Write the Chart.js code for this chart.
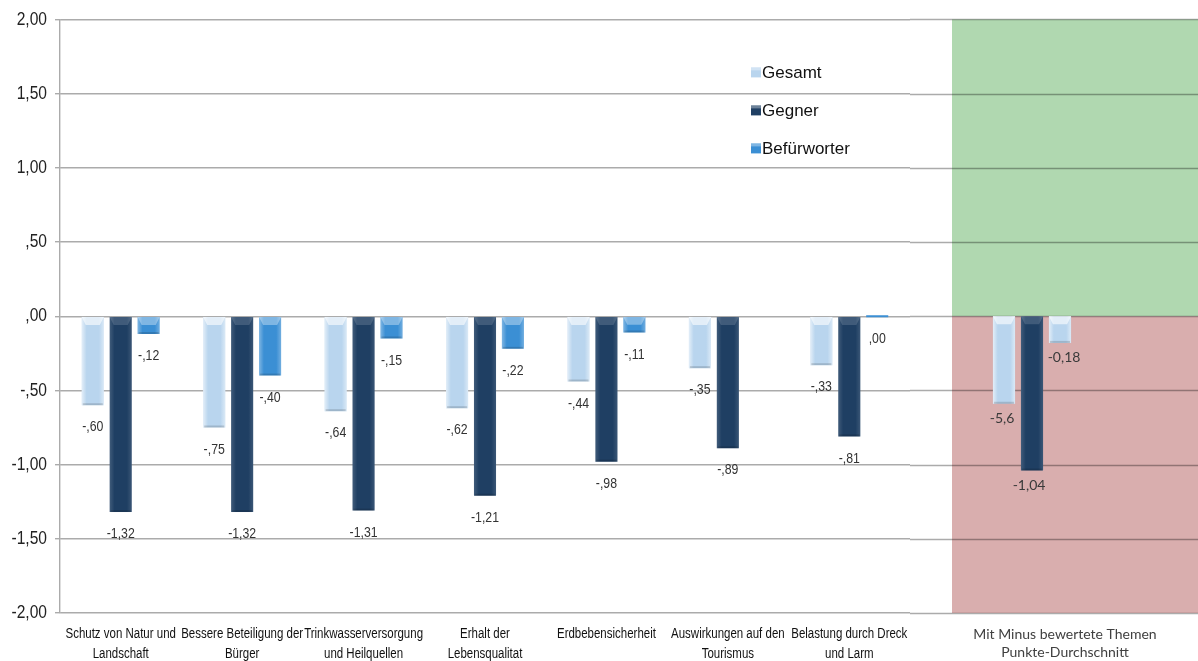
<!DOCTYPE html>
<html>
<head>
<meta charset="utf-8">
<script src="https://cdn.jsdelivr.net/npm/chart.js@4.4.1/dist/chart.umd.min.js"></script>
<style>
  body { margin: 0; background: #fff; }
  .box { position: absolute; top: 0; height: 661px; }
  #boxA { left: 0; width: 910px; }
  #boxB { left: 866px; width: 332px; }
</style>
</head>
<body>
<div class="box" id="boxA"><canvas id="bars"></canvas></div>
<div class="box" id="boxB"><canvas id="panel"></canvas></div>
<script>
// data
const topics = [
    ["Schutz von Natur und", "Landschaft"],
    ["Bessere Beteiligung der", "Bürger"],
    ["Trinkwasserversorgung", "und Heilquellen"],
    ["Erhalt der", "Lebensqualitat"],
    ["Erdbebensicherheit"],
    ["Auswirkungen auf den", "Tourismus"],
    ["Belastung durch Dreck", "und Larm"],
];
const gesamt = [-0.60, -0.75, -0.64, -0.62, -0.44, -0.35, -0.33];
const gegner = [-1.32, -1.32, -1.31, -1.21, -0.98, -0.89, -0.81];
const befuerworter = [-0.12, -0.40, -0.15, -0.22, -0.11, null, 0.00];

const panelLabel = ["Mit Minus bewertete Themen", "Punkte-Durchschnitt"];
const panelValues = [-0.59, -1.04, -0.18];
const panelText = ["-5,6", "-1,04", "-0,18"];

const yTicks = [2, 1.5, 1, 0.5, 0, -0.5, -1, -1.5, -2];

const seriesNames = ["Gesamt", "Gegner", "Befürworter"];
const seriesColors = ["#b9d5ee", "#1f3f63", "#3b8fd4"];
// how strong the light bevel is on each colour
const bevelAlpha = { "#b9d5ee": 0.6, "#1f3f63": 0.15, "#3b8fd4": 0.35 };

const arial = "'Liberation Sans', Arial, sans-serif";

function fmt(v) {
    // 0.5 -> ",50", -1.32 -> "-1,32"
    let s = Math.abs(v).toFixed(2).replace(".", ",");
    if (s.startsWith("0")) s = s.slice(1);
    return (v < 0 ? "-" : "") + s;
}

// Arial squeezed to look like Arial Narrow
function narrowText(ctx, text, x, y, size, align, color) {
    ctx.save();
    ctx.translate(x, y);
    ctx.scale(0.82, 1);
    ctx.font = size + "px " + arial;
    ctx.fillStyle = color;
    ctx.textAlign = align;
    ctx.textBaseline = "middle";
    ctx.fillText(text, 0, 0);
    ctx.restore();
}

// light bevel on every bar
const bevel = {
    id: "bevel",
    afterDatasetsDraw(chart) {
        const ctx = chart.ctx;
        ctx.save();
        chart.data.datasets.forEach((ds, i) => {
            chart.getDatasetMeta(i).data.forEach((bar, j) => {
                if (ds.data[j] === null || ds.data[j] === undefined) return;
                const w = bar.width;
                const l = bar.x - w / 2, r = bar.x + w / 2;
                const t = Math.min(bar.y, bar.base), b = Math.max(bar.y, bar.base);
                if (b - t < 4) return;
                const al = bevelAlpha[ds.backgroundColor] || 0.3;
                const d = Math.min(8, (b - t) / 2);
                const g = ctx.createLinearGradient(l, 0, r, 0);
                g.addColorStop(0, "rgba(255,255,255," + al + ")");
                g.addColorStop(0.22, "rgba(255,255,255,0)");
                g.addColorStop(0.78, "rgba(255,255,255,0)");
                g.addColorStop(1, "rgba(255,255,255," + al * 0.8 + ")");
                ctx.fillStyle = g;
                ctx.fillRect(l, t, w, b - t);
                ctx.fillStyle = "rgba(255,255,255," + al + ")";
                ctx.beginPath();
                ctx.moveTo(l, t); ctx.lineTo(r, t); ctx.lineTo(r - 4, t + d); ctx.lineTo(l + 4, t + d);
                ctx.closePath(); ctx.fill();
                ctx.fillStyle = "rgba(0,0,0,0.15)";
                ctx.fillRect(l + 1, b - 2, w - 2, 2);
            });
        });
        ctx.restore();
    },
};

// narrow axis texts and value labels of the left chart
const narrowTexts = {
    id: "narrowTexts",
    afterDraw(chart) {
        const ctx = chart.ctx;
        const a = chart.chartArea;
        const x = chart.scales.x, y = chart.scales.y;
        yTicks.forEach((v) => {
            narrowText(ctx, fmt(v), a.left - 13, y.getPixelForValue(v), 19, "right", "#222");
        });
        chart.data.labels.forEach((lines, i) => {
            lines.forEach((line, k) => {
                narrowText(ctx, line, x.getPixelForValue(i), a.bottom + 21 + k * 20, 14, "center", "#111");
            });
        });
        chart.data.datasets.forEach((ds, i) => {
            chart.getDatasetMeta(i).data.forEach((bar, j) => {
                const v = ds.data[j];
                if (v === null || v === undefined) return;
                narrowText(ctx, fmt(v), bar.x, Math.max(bar.y, bar.base) + 22, 15, "center", "#333");
            });
        });
    },
};

const panelTexts = {
    id: "panelTexts",
    afterDatasetsDraw(chart) {
        const ctx = chart.ctx;
        const dx = [-2, -3, 4];
        ctx.save();
        ctx.font = "14px Lato, 'Open Sans', sans-serif";
        ctx.fillStyle = "#3a3a3a";
        ctx.textAlign = "center";
        ctx.textBaseline = "middle";
        chart.data.datasets.forEach((ds, i) => {
            chart.getDatasetMeta(i).data.forEach((bar) => {
                ctx.fillText(panelText[i], bar.x + dx[i], Math.max(bar.y, bar.base) + 15);
            });
        });
        ctx.restore();
    },
};

const legendBox = {
    id: "legendBox",
    afterDraw(chart) {
        const ctx = chart.ctx;
        const a = chart.chartArea;
        ctx.save();
        ctx.font = "17px " + arial;
        ctx.textBaseline = "middle";
        chart.data.datasets.forEach((ds, i) => {
            const x = a.left + 691, y = a.top + 53 + i * 38;
            ctx.fillStyle = ds.backgroundColor;
            ctx.fillRect(x, y - 5, 10, 10);
            ctx.fillStyle = "rgba(255,255,255,0.35)";
            ctx.fillRect(x, y - 5, 10, 3);
            ctx.fillStyle = "#111";
            ctx.fillText(ds.label, x + 11, y + 1);
        });
        ctx.restore();
    },
};

const yScale = (visible) => ({
    min: -2,
    max: 2,
    afterBuildTicks: (s) => { s.ticks = yTicks.map((v) => ({ value: v })); },
    afterFit: (s) => { s.width = visible ? 60 : 0; },
    ticks: {
        padding: 8,
        color: "rgba(0,0,0,0)",
        font: { family: arial, size: 19 },
        callback: (v) => fmt(v),
    },
    grid: {
        display: visible,
        color: "rgba(0,0,0,0.33)",
        lineWidth: 1.4,
        tickLength: 5,
    },
    border: { display: visible, color: "rgba(0,0,0,0.33)", width: 1.4 },
});

const xScale = (offset, family, color) => ({
    afterFit: (s) => { s.height = 48; },
    grid: { display: false, drawTicks: false },
    border: { display: false },
    ticks: {
        display: family !== null,
        padding: 12,
        labelOffset: offset,
        maxRotation: 0,
        autoSkip: false,
        color: color,
        font: { family: family || arial, size: 14, lineHeight: 1.3 },
    },
});

const bars = document.getElementById("bars");
new Chart(bars, {
    type: "bar",
    data: {
        labels: topics,
        datasets: [
            { label: seriesNames[0], data: gesamt, backgroundColor: seriesColors[0] },
            { label: seriesNames[1], data: gegner, backgroundColor: seriesColors[1] },
            { label: seriesNames[2], data: befuerworter, backgroundColor: seriesColors[2], minBarLength: 2 },
        ],
    },
    options: {
        responsive: true,
        maintainAspectRatio: false,
        animation: false,
        categoryPercentage: 0.69,
        barPercentage: 0.79,
        layout: { padding: { top: 8, right: 0, left: 0, bottom: 0 } },
        scales: {
            x: xScale(0, null, "#111"),
            y: yScale(true),
        },
        plugins: {
            legend: { display: false },
            tooltip: { enabled: false },
        },
    },
    plugins: [bevel, narrowTexts, legendBox],
});

// right-hand panel with green/red background
const shading = {
    id: "shading",
    beforeDatasetsDraw(chart) {
        const ctx = chart.ctx;
        const a = chart.chartArea;
        const y = chart.scales.y;
        const x0 = a.left + 86;
        const zero = y.getPixelForValue(0);
        ctx.save();
        ctx.fillStyle = "#b0d8b0";
        ctx.fillRect(x0, a.top, a.right - x0, zero - a.top);
        ctx.fillStyle = "#d9aeae";
        ctx.fillRect(x0, zero, a.right - x0, a.bottom - zero);
        ctx.strokeStyle = "rgba(0,0,0,0.33)";
        ctx.lineWidth = 1.4;
        yTicks.forEach((v) => {
            const p = Math.round(y.getPixelForValue(v)) + 0.5;
            ctx.beginPath();
            ctx.moveTo(a.left + 44, p);
            ctx.lineTo(a.right, p);
            ctx.stroke();
        });
        ctx.restore();
    },
};

const panel = document.getElementById("panel");
new Chart(panel, {
    type: "bar",
    data: {
        labels: [panelLabel],
        datasets: [
            { label: seriesNames[0], data: [panelValues[0]], backgroundColor: seriesColors[0] },
            { label: seriesNames[1], data: [panelValues[1]], backgroundColor: seriesColors[1] },
            { label: seriesNames[2], data: [panelValues[2]], backgroundColor: seriesColors[0] },
        ],
    },
    options: {
        responsive: true,
        maintainAspectRatio: false,
        animation: false,
        categoryPercentage: 0.253,
        barPercentage: 0.79,
        layout: { padding: { top: 8, right: 0, left: 0, bottom: 0 } },
        scales: {
            x: xScale(33, "Lato, 'Open Sans', sans-serif", "#404040"),
            y: yScale(false),
        },
        plugins: {
            legend: { display: false },
            tooltip: { enabled: false },
        },
    },
    plugins: [shading, bevel, panelTexts],
});
</script>
</body>
</html>
